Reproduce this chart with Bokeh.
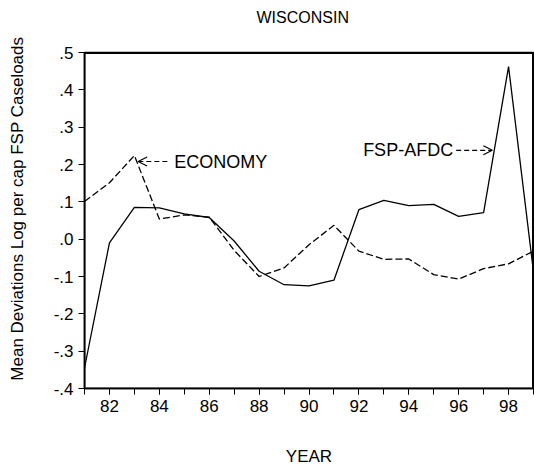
from bokeh.plotting import figure
from bokeh.models import FixedTicker, Label, Range1d, Arrow, OpenHead, Span, BoxAnnotation
from bokeh.embed import file_html
from bokeh.resources import INLINE

# ---- data ----
years = [81, 82, 83, 84, 85, 86, 87, 88, 89, 90, 91, 92, 93, 94, 95, 96, 97, 98, 99]
fsp_afdc = [-0.345, -0.010, 0.085, 0.084, 0.068, 0.058, -0.005, -0.086, -0.122, -0.125,
            -0.110, 0.079, 0.104, 0.090, 0.093, 0.061, 0.071, 0.462, -0.088]
economy = [0.101, 0.151, 0.224, 0.054, 0.065, 0.059, -0.030, -0.100, -0.077, -0.015,
           0.037, -0.032, -0.054, -0.053, -0.095, -0.107, -0.079, -0.066, -0.032]

x_ticks = [82, 84, 86, 88, 90, 92, 94, 96, 98]
x_tick_labels = ["82", "84", "86", "88", "90", "92", "94", "96", "98"]
y_ticks = [-0.4, -0.3, -0.2, -0.1, 0.0, 0.1, 0.2, 0.3, 0.4, 0.5]
y_tick_labels = ["-.4", "-.3", "-.2", "-.1", ".0", ".1", ".2", ".3", ".4", ".5"]

FONT = "Liberation Sans"
NBSP = "\u00a0"

x_lo, x_hi = years[0], years[-1]
y_lo, y_hi = y_ticks[0], y_ticks[-1]

p = figure(width=534, height=468, output_backend="svg", toolbar_location=None,
           x_range=Range1d(x_lo, x_hi), y_range=Range1d(y_lo, y_hi),
           min_border_left=84, min_border_top=52, min_border_right=1, min_border_bottom=80)

# two-line title box (second line blank) lifts the visible text away from the box
p.title.text = "WISCONSIN\n" + NBSP
p.title.text_font = FONT
p.title.text_font_size = "16px"
p.title.text_font_style = "normal"
p.title.text_color = "black"
p.title.text_line_height = 1.3
p.title.align = "left"
p.title.offset = 172
p.title.standoff = 8

p.line(years, fsp_afdc, line_color="black", line_width=1.3)
p.line(years, economy, line_color="black", line_width=1.3, line_dash="7 3")

# box edges
p.add_layout(BoxAnnotation(left=x_lo, right=x_hi, bottom=y_lo, top=y_hi,
                           fill_alpha=0, line_color="black", line_width=3,
                           level="overlay"))
p.add_layout(Span(location=y_hi, dimension="width", line_color="black", line_width=3,
                  level="overlay"))
p.add_layout(Span(location=x_hi, dimension="height", line_color="black", line_width=3,
                  level="overlay"))

# annotations
p.add_layout(Arrow(end=OpenHead(size=9, line_color="black", line_width=1.2),
                   x_start=84.32, y_start=0.208, x_end=83.15, y_end=0.208,
                   line_color="black", line_width=1.2, line_dash="5 3"))
p.add_layout(Label(x=84.6, y=0.208, text="ECONOMY", text_font=FONT,
                   text_font_size="18px", text_baseline="middle", text_align="left",
                   text_color="black"))
p.add_layout(Label(x=92.17, y=0.238, text="FSP-AFDC", text_font=FONT,
                   text_font_size="18px", text_baseline="middle", text_align="left",
                   text_color="black"))
p.add_layout(Arrow(end=OpenHead(size=9, line_color="black", line_width=1.2),
                   x_start=95.9, y_start=0.238, x_end=97.35, y_end=0.238,
                   line_color="black", line_width=1.2, line_dash="5 3"))

p.xgrid.visible = False
p.ygrid.visible = False
p.outline_line_color = "black"
p.outline_line_width = 1.5
p.outline_line_alpha = 1.0
p.background_fill_color = "white"
p.border_fill_color = "white"

xa = p.xaxis[0]
xa.ticker = FixedTicker(ticks=x_ticks, minor_ticks=years)
xa.major_label_overrides = dict(zip(x_ticks, x_tick_labels))
xa.axis_label = "YEAR"
xa.axis_label_standoff = 32

ya = p.yaxis[0]
ya.ticker = FixedTicker(ticks=y_ticks, minor_ticks=[])
ya.major_label_overrides = dict(zip(y_ticks, y_tick_labels))
ya.axis_label = NBSP * 5 + "Mean Deviations Log per cap FSP Caseloads"
ya.axis_label_standoff = 24

for ax in (xa, ya):
    ax.axis_line_color = "black"
    ax.axis_line_width = 1.5
    ax.major_tick_line_color = "black"
    ax.minor_tick_line_color = "black"
    ax.major_tick_out = 6
    ax.major_tick_in = 0
    ax.minor_tick_out = 6
    ax.minor_tick_in = 0
    ax.major_label_text_font = FONT
    ax.major_label_text_font_size = "17px"
    ax.major_label_text_color = "black"
    ax.major_label_standoff = 5
    ax.axis_label_text_font = FONT
    ax.axis_label_text_font_size = "17px"
    ax.axis_label_text_font_style = "normal"
    ax.axis_label_text_color = "black"

open("out.html", "w").write(file_html(p, INLINE))
